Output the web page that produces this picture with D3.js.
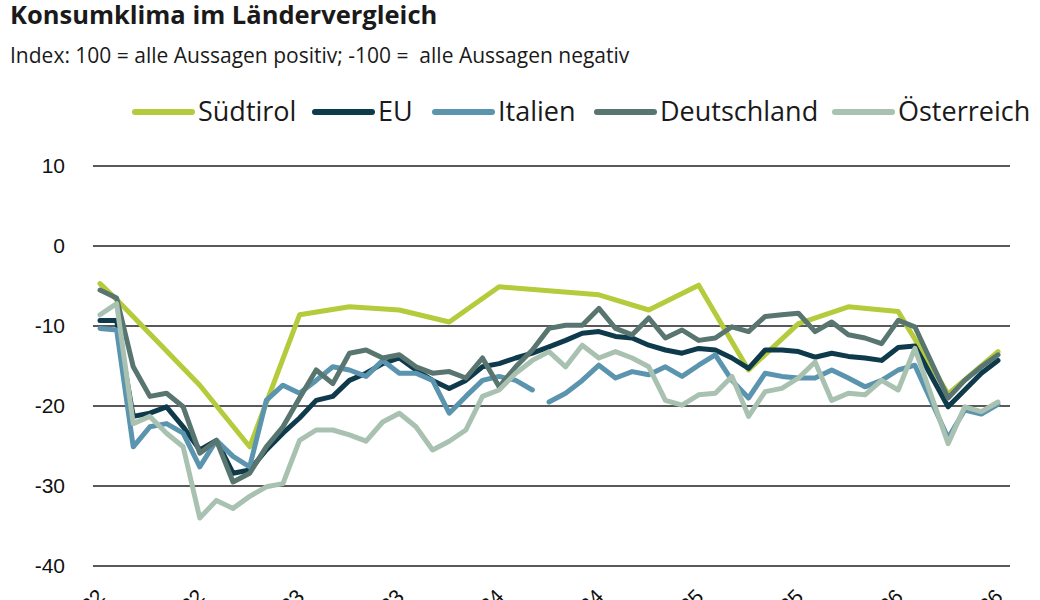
<!DOCTYPE html>
<html>
<head>
<meta charset="utf-8">
<script src="https://cdn.jsdelivr.net/npm/d3@7"></script>
<style>
    body { margin: 0; background: #fff; }
    svg { display: block; }
    .title { font-family: "Open Sans", sans-serif; font-weight: 700; font-size: 25.5px; fill: #1a1a1a; }
    .subtitle { font-family: "Open Sans", sans-serif; font-size: 21px; fill: #1a1a1a; white-space: pre; }
    .legend text { font-family: "Open Sans", sans-serif; font-size: 27px; fill: #1a1a1a; }
    .yaxis text, .xaxis text { font-family: "Liberation Sans", Arial, sans-serif; font-size: 21px; fill: #111; }
    .grid line { stroke: #222; stroke-width: 1.6; }
    .series { fill: none; stroke-width: 5; stroke-linejoin: round; stroke-linecap: round; }
</style>
</head>
<body>
<svg width="1040" height="600"></svg>
<script>
// month index 0 = Jan 22, one value per month, null = no value
const tickLabels = ["Jan 22", "Jul 22", "Jan 23", "Jul 23", "Jan 24", "Jul 24", "Jan 25", "Jul 25", "Jan 26", "Jul 26"]
const yTicks = [10, 0, -10, -20, -30, -40]

const names = ["Südtirol", "EU", "Italien", "Deutschland", "Österreich"]
const colors = ["#b5cb3c", "#0e3a4c", "#5b94af", "#597570", "#a9c1b1"]

// Südtirol is only surveyed in some months: [month index, value]
const suedtirol = [[0, -4.7], [1, -6.7], [6, -17.4], [9, -25.1], [12, -8.6], [15, -7.6], [18, -8.0], [21, -9.5],
    [24, -5.1], [30, -6.1], [33, -8.0], [36, -4.9], [39, -15.5], [42, -9.7], [45, -7.6], [48, -8.2], [51, -18.5], [54, -13.2]]

const eu = [-9.3, -9.3, -21.3, -20.9, -20.1, -22.6, -25.5, -24.3, -28.4, -28.0,
    -25.5, -23.4, -21.5, -19.3, -18.8, -16.8, -15.9, -14.7, -14.0, -15.5,
    -16.8, -17.8, -16.8, -15.1, -14.7, -14.0, -13.4, -12.6, -11.8, -10.9,
    -10.7, -11.3, -11.5, -12.4, -13.0, -13.4, -12.8, -13.0, -14.0, -15.3,
    -13.0, -13.0, -13.2, -13.9, -13.4, -13.8, -14.0, -14.3, -12.7, -12.5,
    null, -20.1, -18.0, -15.9, -14.3]

const italien = [-10.3, -10.5, -25.1, -22.6, -22.2, -23.4, -27.6, -24.3, -26.3, -27.6,
    -19.3, -17.4, -18.4, -16.8, -15.1, -15.5, -16.3, -14.3, -15.9, -15.9,
    -16.8, -20.9, -18.8, -16.8, -16.3, -16.8, -18.0, -19.5, -18.4, -16.8,
    -14.9, -16.5, -15.7, -16.1, -15.1, -16.3, -14.9, -13.6, -16.8, -19.0,
    -15.9, -16.3, -16.5, -16.5, -15.5, -16.5, -17.6, -16.8, -15.5, -14.9,
    null, -24.0, -20.5, -21.0, -19.8]
const italienBreak = 27 // line is interrupted before this month

const deutschland = [-5.5, -6.5, -15.1, -18.8, -18.4, -20.1, -25.9, -24.3, -29.5, -28.4,
    -25.1, -22.6, -19.0, -15.5, -17.2, -13.4, -13.0, -14.0, -13.6, -15.1,
    -15.9, -15.7, -16.5, -14.0, -17.6, -15.1, -13.0, -10.3, -9.9, -9.9,
    -7.8, -10.3, -11.1, -9.0, -11.5, -10.5, -11.8, -11.5, -10.1, -10.7,
    -8.8, -8.6, -8.4, -10.7, -9.5, -11.1, -11.5, -12.2, -9.3, -10.1,
    null, -19.0, -16.8, -15.1, -13.6]

const oesterreich = [-8.6, -7.2, -22.2, -21.3, -23.4, -25.1, -34.0, -31.8, -32.8, -31.3,
    -30.1, -29.7, -24.3, -23.0, -23.0, -23.6, -24.4, -22.0, -20.9, -22.6,
    -25.5, -24.4, -23.0, -18.8, -18.0, -15.9, -14.3, -13.2, -15.1, -12.4,
    -14.0, -13.2, -14.0, -15.1, -19.3, -19.9, -18.6, -18.4, -16.3, -21.3,
    -18.2, -17.8, -16.5, -14.5, -19.3, -18.4, -18.6, -16.8, -18.0, -12.8,
    null, -24.7, -20.1, -20.7, -19.5]

const svg = d3.select("svg")

const x = d3.scaleLinear().domain([0, 54]).range([100, 998])
const y = d3.scaleLinear().domain([-40, 10]).range([566, 166])

svg.append("text").attr("class", "title").attr("x", 10).attr("y", 24).text("Konsumklima im Ländervergleich")
svg.append("text").attr("class", "subtitle").attr("x", 10).attr("y", 63)
    .text("Index: 100 = alle Aussagen positiv; -100 =  alle Aussagen negativ")

// grid + y labels
const yg = svg.append("g").attr("class", "grid")
yg.selectAll("line").data(yTicks).enter().append("line")
    .attr("x1", 93).attr("x2", 1010)
    .attr("y1", d => y(d)).attr("y2", d => y(d))

svg.append("g").attr("class", "yaxis")
    .selectAll("text").data(yTicks).enter().append("text")
    .attr("x", 65).attr("y", d => y(d)).attr("dy", "0.35em")
    .attr("text-anchor", "end")
    .text(d => d)

// x labels, rotated, mostly below the picture edge
svg.append("g").attr("class", "xaxis")
    .selectAll("text").data(tickLabels).enter().append("text")
    .attr("text-anchor", "end")
    .attr("transform", (d, i) => `translate(${x(i * 6) + 6},${598}) rotate(-45)`)
    .text(d => d)

// lines
const line = d3.line().x(d => x(d[0])).y(d => y(d[1]))
const toPoints = vals => vals.map((v, i) => [i, v]).filter(d => d[1] != null)

const seriesData = [
    [suedtirol],
    [toPoints(eu)],
    [toPoints(italien).filter(d => d[0] < italienBreak), toPoints(italien).filter(d => d[0] >= italienBreak)],
    [toPoints(deutschland)],
    [toPoints(oesterreich)]
]

seriesData.forEach((segs, k) => {
    svg.append("g").selectAll("path").data(segs).enter().append("path")
        .attr("class", "series")
        .attr("stroke", colors[k])
        .attr("d", line)
})

// legend
const legendX = [135, 315, 435, 597, 835]
const lg = svg.append("g").attr("class", "legend")
names.forEach((n, k) => {
    lg.append("line")
        .attr("x1", legendX[k]).attr("x2", legendX[k] + 57)
        .attr("y1", 112).attr("y2", 112)
        .attr("stroke", colors[k]).attr("stroke-width", 6).attr("stroke-linecap", "round")
    lg.append("text")
        .attr("x", legendX[k] + 63).attr("y", 112).attr("dy", "0.35em")
        .text(n)
})
</script>
</body>
</html>
